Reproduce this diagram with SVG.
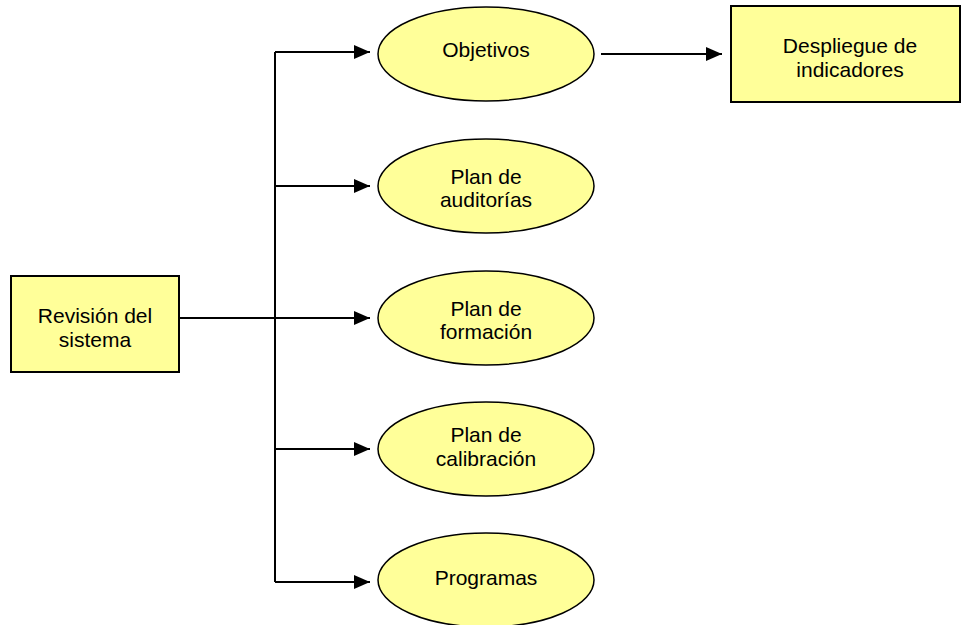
<svg xmlns="http://www.w3.org/2000/svg" width="961" height="625" viewBox="0 0 961 625">
<style>
.box{fill:#FFFF99;stroke:#000;stroke-width:2}
.ell{fill:#FFFF99;stroke:#000;stroke-width:1.5}
.t{font-family:"Liberation Sans",Arial,sans-serif;font-size:21px;fill:#000;text-anchor:middle}
.c{fill:none;stroke:#000;stroke-width:2}
</style>
<defs>
<marker id="ah" markerWidth="16" markerHeight="14" refX="16" refY="7" orient="auto" markerUnits="userSpaceOnUse">
<path d="M0,0 L16,7 L0,14 Z" fill="#000"/>
</marker>
</defs>
<rect width="961" height="625" fill="#fff"/>
<g id="connectors">
<path class="c" d="M275,52 V582"/>
<path class="c" d="M275,52 H370" marker-end="url(#ah)"/>
<path class="c" d="M275,186 H370" marker-end="url(#ah)"/>
<path class="c" d="M179,318 H370" marker-end="url(#ah)"/>
<path class="c" d="M275,449 H370" marker-end="url(#ah)"/>
<path class="c" d="M275,582 H370" marker-end="url(#ah)"/>
<path class="c" d="M601,54 H722" marker-end="url(#ah)"/>
</g>
<g id="revision">
<rect class="box" x="11" y="276" width="168" height="96"/>
<text class="t" x="95" y="323">Revisión del</text>
<text class="t" x="95" y="347">sistema</text>
</g>
<g id="objetivos">
<ellipse class="ell" cx="486" cy="54" rx="108" ry="47"/>
<text class="t" x="486" y="57">Objetivos</text>
</g>
<g id="auditorias">
<ellipse class="ell" cx="486" cy="186" rx="108" ry="47"/>
<text class="t" x="486" y="184">Plan de</text>
<text class="t" x="486" y="207">auditorías</text>
</g>
<g id="formacion">
<ellipse class="ell" cx="486" cy="318" rx="108" ry="47"/>
<text class="t" x="486" y="316">Plan de</text>
<text class="t" x="486" y="339">formación</text>
</g>
<g id="calibracion">
<ellipse class="ell" cx="486" cy="449" rx="108" ry="47"/>
<text class="t" x="486" y="442">Plan de</text>
<text class="t" x="486" y="466">calibración</text>
</g>
<g id="programas">
<ellipse class="ell" cx="486" cy="580" rx="108" ry="47"/>
<text class="t" x="486" y="585">Programas</text>
</g>
<g id="despliegue">
<rect class="box" x="731" y="6" width="229" height="96"/>
<text class="t" x="850" y="53">Despliegue de</text>
<text class="t" x="850" y="77">indicadores</text>
</g>
</svg>
